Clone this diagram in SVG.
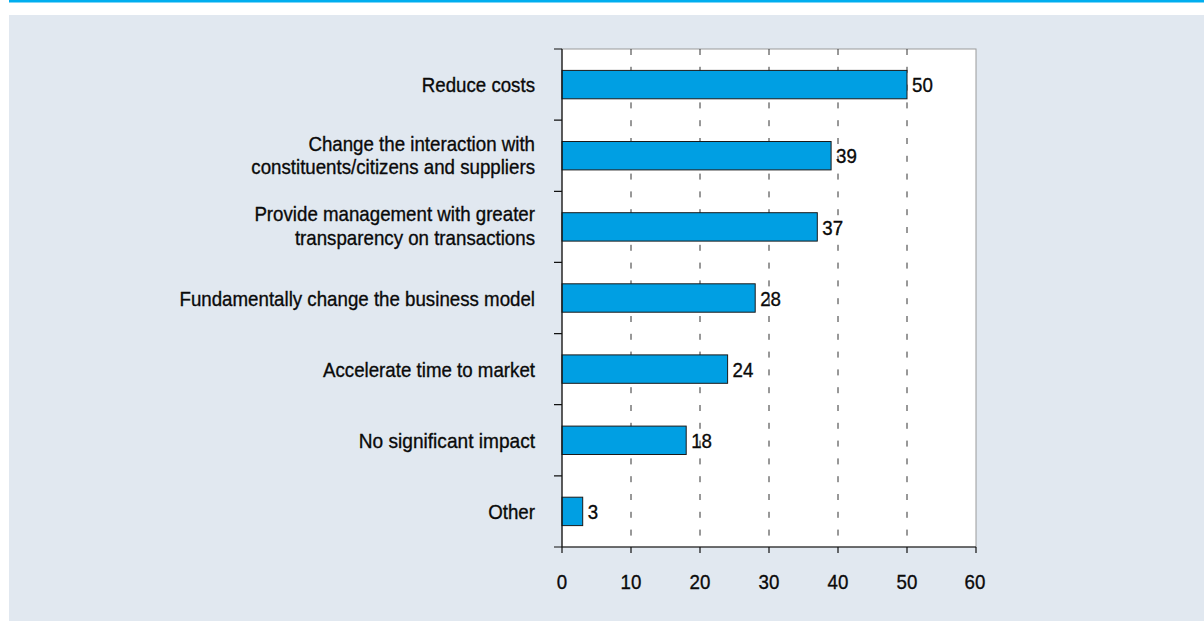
<svg xmlns="http://www.w3.org/2000/svg" width="1204" height="621" viewBox="0 0 1204 621">
<style>
.t{font-family:"Liberation Sans",Arial,sans-serif;font-size:21px;fill:#0a0a0a;stroke:#0a0a0a;stroke-width:0.35}
.cat{text-anchor:end}
.ax{text-anchor:middle}
.bar{fill:#009FE3;stroke:#1a1a1a;stroke-width:1}
.grid{stroke:#333;stroke-width:1;stroke-dasharray:6 11.8}
.axis{stroke:#111;stroke-width:1.2;fill:none}
</style>
<rect x="9" y="0" width="1195" height="2.5" fill="#00AEEF"/>
<rect x="9" y="15" width="1195" height="606" fill="#E1E8F0"/>
<g id="plot">
<rect x="562" y="49" width="414" height="498" fill="#fff" stroke="#9a9a9a" stroke-width="1"/>
</g>
<g id="grid">
<line class="grid" x1="631" y1="49" x2="631" y2="547"/>
<line class="grid" x1="700" y1="49" x2="700" y2="547"/>
<line class="grid" x1="769" y1="49" x2="769" y2="547"/>
<line class="grid" x1="838" y1="49" x2="838" y2="547"/>
<line class="grid" x1="907" y1="49" x2="907" y2="547"/>
</g>
<g id="bars">
<rect class="bar" x="562" y="70.4" width="345" height="28.4"/>
<rect class="bar" x="562" y="141.5" width="269.1" height="28.4"/>
<rect class="bar" x="562" y="212.7" width="255.3" height="28.4"/>
<rect class="bar" x="562" y="283.8" width="193.2" height="28.4"/>
<rect class="bar" x="562" y="354.9" width="165.6" height="28.4"/>
<rect class="bar" x="562" y="426.1" width="124.2" height="28.4"/>
<rect class="bar" x="562" y="497.2" width="20.7" height="28.4"/>
</g>
<g id="axes">
<path class="axis" d="M562 49V553M554 547H976M554 49H562M554 120.1H562M554 191.3H562M554 262.4H562M554 333.6H562M554 404.7H562M554 475.9H562M631 547V553M700 547V553M769 547V553M838 547V553M907 547V553M976 547V553"/>
</g>
<g id="values" class="t">
<text x="912" y="92.3" textLength="20.8" lengthAdjust="spacingAndGlyphs">50</text>
<text x="836.1" y="163.4" textLength="20.8" lengthAdjust="spacingAndGlyphs">39</text>
<text x="822.3" y="234.6" textLength="20.8" lengthAdjust="spacingAndGlyphs">37</text>
<text x="760.2" y="305.7" textLength="20.8" lengthAdjust="spacingAndGlyphs">28</text>
<text x="732.6" y="376.8" textLength="20.8" lengthAdjust="spacingAndGlyphs">24</text>
<text x="691.2" y="448" textLength="20.8" lengthAdjust="spacingAndGlyphs">18</text>
<text x="587.7" y="519.1" textLength="10.4" lengthAdjust="spacingAndGlyphs">3</text>
</g>
<g id="categories" class="t cat">
<text x="535" y="92.3" textLength="113.2" lengthAdjust="spacingAndGlyphs">Reduce costs</text>
<text x="535" y="150.7" textLength="226.6" lengthAdjust="spacingAndGlyphs">Change the interaction with</text>
<text x="535" y="174.2" textLength="283.7" lengthAdjust="spacingAndGlyphs">constituents/citizens and suppliers</text>
<text x="535" y="221" textLength="280.6" lengthAdjust="spacingAndGlyphs">Provide management with greater</text>
<text x="535" y="245" textLength="240.1" lengthAdjust="spacingAndGlyphs">transparency on transactions</text>
<text x="535" y="305.7" textLength="355.5" lengthAdjust="spacingAndGlyphs">Fundamentally change the business model</text>
<text x="535" y="376.8" textLength="212" lengthAdjust="spacingAndGlyphs">Accelerate time to market</text>
<text x="535" y="448" textLength="176.2" lengthAdjust="spacingAndGlyphs">No significant impact</text>
<text x="535" y="519.1" textLength="46.8" lengthAdjust="spacingAndGlyphs">Other</text>
</g>
<g id="xlabels" class="t ax">
<text x="562" y="589.3" textLength="10.4" lengthAdjust="spacingAndGlyphs">0</text>
<text x="631" y="589.3" textLength="20.8" lengthAdjust="spacingAndGlyphs">10</text>
<text x="700" y="589.3" textLength="20.8" lengthAdjust="spacingAndGlyphs">20</text>
<text x="769" y="589.3" textLength="20.8" lengthAdjust="spacingAndGlyphs">30</text>
<text x="838" y="589.3" textLength="20.8" lengthAdjust="spacingAndGlyphs">40</text>
<text x="907" y="589.3" textLength="20.8" lengthAdjust="spacingAndGlyphs">50</text>
<text x="975" y="589.3" textLength="20.8" lengthAdjust="spacingAndGlyphs">60</text>
</g>
</svg>
